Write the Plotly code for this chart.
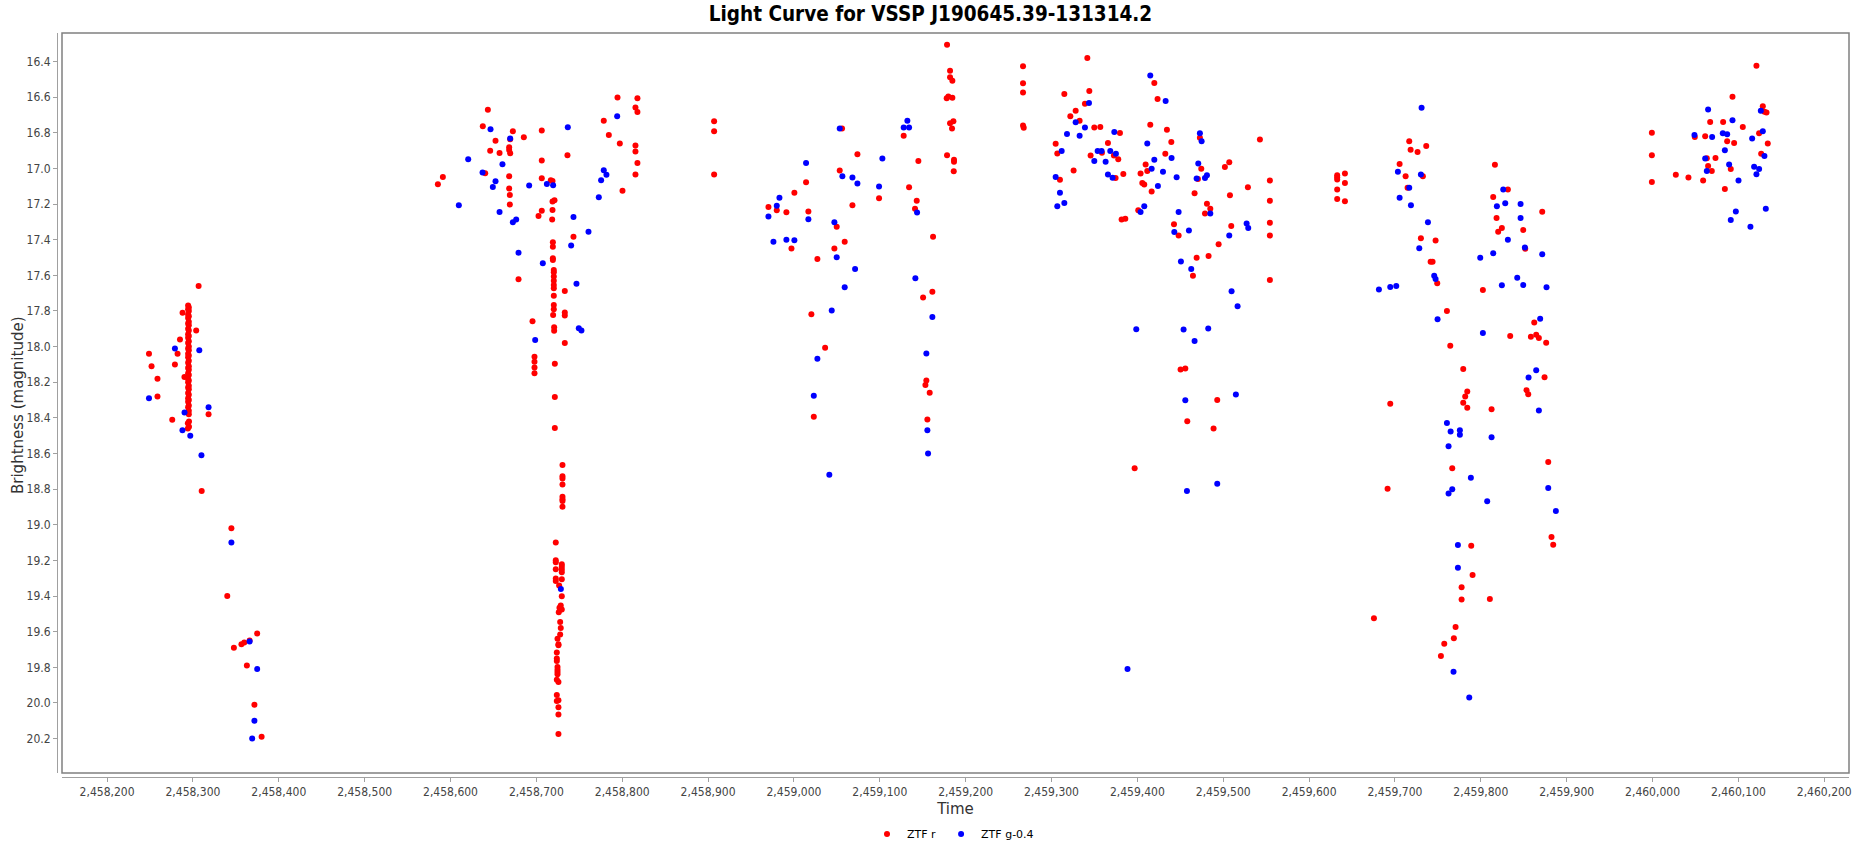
import plotly.graph_objects as go

# ---------------- data ----------------
red_t = [
    # season 1
    2458306.6, 2458287.9, 2458303.8, 2458284.9, 2458248.8, 2458282.1, 2458251.8, 2458279.0,
    2458258.7, 2458290.1, 2458258.7, 2458318.2, 2458275.9, 2458295.4, 2458294.1, 2458295.4,
    2458294.1, 2458310.2, 2458344.8, 2458340.0, 2458374.8, 2458366.0, 2458359.8, 2458356.5,
    2458347.7, 2458362.8, 2458371.6, 2458380.0,
    2458294.4, 2458295.2, 2458294.4, 2458295.2, 2458294.4, 2458295.2, 2458294.4, 2458295.2,
    2458294.4, 2458295.2, 2458294.4, 2458295.2, 2458294.4, 2458295.2, 2458294.4, 2458295.2,
    2458294.4, 2458295.2, 2458294.4, 2458295.2, 2458294.4, 2458295.2, 2458294.4, 2458295.2,
    2458294.4, 2458295.2, 2458294.4, 2458295.2, 2458294.4, 2458295.2, 2458294.4, 2458295.2,
    2458294.4, 2458295.2, 2458294.4, 2458295.2, 2458294.4, 2458295.2, 2458294.4, 2458295.2,
    2458294.4, 2458295.2, 2458294.4, 2458295.2, 2458294.4, 2458295.2,
    # season 2
    2458794.5, 2458817.7, 2458815.4, 2458817.7, 2458643.5, 2458907.0, 2458778.5, 2458637.6,
    2458907.0, 2458672.6, 2458706.3, 2458685.4, 2458669.5, 2458784.4, 2458652.4, 2458797.2,
    2458815.4, 2458815.4, 2458668.3, 2458668.3, 2458669.5, 2458646.2, 2458657.1, 2458706.3,
    2458736.2, 2458817.7, 2458815.4, 2458907.0, 2458591.1, 2458585.3, 2458640.4, 2458668.3,
    2458706.3, 2458716.8, 2458718.8, 2458668.3, 2458669.1, 2458669.1, 2458800.3, 2458718.8,
    2458721.1, 2458718.8, 2458706.3, 2458702.5, 2458718.4, 2458743.2, 2458719.2, 2458719.2,
    2458719.2, 2458719.2, 2458720.3, 2458720.3, 2458720.3, 2458720.3, 2458720.3, 2458720.3,
    2458720.3, 2458720.3, 2458720.3, 2458719.5, 2458733.1, 2458733.1, 2458733.1, 2458733.1,
    2458679.2, 2458695.5, 2458720.7, 2458720.7, 2458697.8, 2458697.8, 2458697.8, 2458697.8,
    2458721.5, 2458721.5,
    2458721.5, 2458730.4, 2458730.4, 2458730.4, 2458730.4, 2458730.4, 2458730.4, 2458730.4,
    2458730.4, 2458722.6, 2458722.6, 2458722.6, 2458729.6, 2458729.6, 2458729.6, 2458729.6,
    2458722.6, 2458722.6, 2458722.6, 2458729.6, 2458726.5, 2458729.6, 2458728.4, 2458726.9,
    2458729.6, 2458726.1, 2458727.7, 2458728.4, 2458727.7, 2458724.6, 2458725.7, 2458725.7,
    2458723.8, 2458723.8, 2458723.8, 2458724.6, 2458724.6, 2458724.6, 2458724.6, 2458723.8,
    2458725.7, 2458723.8, 2458723.8, 2458725.7, 2458725.7, 2458725.7, 2458725.7,
    # season 3-4
    2459178.3, 2459181.8, 2459181.8, 2459184.5, 2459177.9, 2459179.8, 2459184.5, 2459181.8,
    2459185.7, 2459184.1, 2459266.8, 2459266.8, 2459266.8, 2459266.8, 2459267.6, 2459056.0,
    2459127.8, 2459073.9, 2459144.9, 2459178.3, 2459186.4, 2459186.4, 2459186.1, 2459053.3,
    2459014.1, 2459000.5, 2459134.1, 2459099.1, 2459143.0, 2459141.0, 2458970.3, 2458980.0,
    2458991.2, 2459016.8, 2459068.1, 2459049.8, 2459059.1, 2459047.1, 2458997.1, 2459027.3,
    2459162.0, 2459161.2, 2459150.4, 2459020.3, 2459036.3, 2459023.1, 2459154.2, 2459153.1,
    2459158.1, 2459155.4,
    # season 5
    2459341.7, 2459314.9, 2459344.0, 2459338.9, 2459321.9, 2459328.1, 2459332.7, 2459349.8,
    2459356.8, 2459419.7, 2459423.5, 2459415.0, 2459434.4, 2459379.7, 2459304.8, 2459306.7,
    2459365.7, 2459439.5, 2459345.5, 2459358.7, 2459372.7, 2459377.7, 2459325.7, 2459309.8,
    2459374.6, 2459383.6, 2459432.5, 2459409.6, 2459411.5, 2459403.7, 2459405.7, 2459408.0,
    2459416.6, 2459472.8, 2459474.4, 2459470.5, 2459466.6, 2459501.9, 2459507.0, 2459542.7,
    2459554.3, 2459554.3, 2459554.3, 2459554.3, 2459554.3, 2459528.7, 2459507.8, 2459481.0,
    2459484.9, 2459478.7, 2459509.3, 2459494.6, 2459482.9, 2459469.0, 2459464.7, 2459381.6,
    2459385.9, 2459401.0, 2459442.6, 2459448.0, 2459450.3, 2459455.8, 2459493.0, 2459458.1,
    2459488.7, 2459396.8,
    2459632.7, 2459632.7, 2459632.7, 2459641.7, 2459641.7, 2459632.7, 2459632.7, 2459641.7,
    # season 6
    2459716.6, 2459736.4, 2459718.2, 2459726.3, 2459705.4, 2459712.4, 2459732.5, 2459714.7,
    2459816.4, 2459831.5, 2459814.4, 2459871.5, 2459818.3, 2459824.5, 2459820.2, 2459849.4,
    2459851.7, 2459730.2, 2459747.3, 2459741.5, 2459743.8, 2459749.2, 2459802.4, 2459760.5,
    2459862.2, 2459834.2, 2459858.3, 2459864.5, 2459867.6, 2459876.1, 2459764.4, 2459779.5,
    2459874.2, 2459784.2, 2459781.8, 2459779.5, 2459784.2, 2459853.2, 2459855.2, 2459812.5,
    2459694.5, 2459878.5, 2459766.7, 2459691.4, 2459882.3, 2459884.3, 2459788.8, 2459790.4,
    2459777.6, 2459777.6, 2459810.5, 2459675.5, 2459770.6, 2459768.6, 2459757.4, 2459753.5,
    # season 7
    2460121.0, 2460093.1, 2460128.4, 2460130.3, 2460132.7, 2460067.1, 2460082.2, 2460105.1,
    2459999.2, 2460049.2, 2460061.3, 2460124.1, 2460086.9, 2460095.0, 2460134.2, 2459999.2,
    2460063.2, 2460073.3, 2460126.5, 2460064.7, 2460069.0, 2460091.1, 2460027.1, 2460041.8,
    2460058.9, 2459999.2, 2460084.2,
]
red_mag = [
    # season 1
    17.66, 17.81, 17.91, 17.96, 18.04, 18.04, 18.11, 18.10,
    18.18, 18.17, 18.28, 18.38, 18.41, 18.42, 18.43, 18.45,
    18.46, 18.81, 19.02, 19.40, 19.61, 19.65, 19.66, 19.67,
    19.69, 19.79, 20.01, 20.19,
    17.77, 17.78, 17.79, 17.80, 17.82, 17.83, 17.84, 17.86,
    17.87, 17.88, 17.90, 17.91, 17.93, 17.94, 17.95, 17.97,
    17.98, 18.00, 18.01, 18.02, 18.04, 18.05, 18.06, 18.08,
    18.09, 18.11, 18.12, 18.13, 18.15, 18.16, 18.18, 18.19,
    18.20, 18.22, 18.23, 18.24, 18.26, 18.27, 18.29, 18.30,
    18.31, 18.33, 18.34, 18.36, 18.37, 18.38,
    # season 2
    16.602, 16.606, 16.658, 16.684, 16.671, 16.735, 16.733, 16.763,
    16.791, 16.791, 16.787, 16.825, 16.836, 16.813, 16.845, 16.860,
    16.871, 16.905, 16.881, 16.896, 16.915, 16.901, 16.913, 16.956,
    16.926, 16.969, 17.034, 17.034, 17.048, 17.089, 17.027, 17.044,
    17.055, 17.066, 17.070, 17.113, 17.149, 17.203, 17.126, 17.186,
    17.179, 17.233, 17.238, 17.267, 17.287, 17.383, 17.414, 17.439,
    17.504, 17.514, 17.570, 17.583, 17.607, 17.630, 17.654, 17.673,
    17.714, 17.766, 17.791, 17.823, 17.688, 17.808, 17.826, 17.980,
    17.622, 17.858, 17.892, 17.911, 18.057, 18.085, 18.117, 18.150,
    18.096, 18.283,
    18.457, 18.665, 18.727, 18.740, 18.774, 18.843, 18.856, 18.867,
    18.899, 19.099, 19.199, 19.210, 19.221, 19.236, 19.251, 19.266,
    19.249, 19.302, 19.315, 19.305, 19.341, 19.401, 19.453, 19.465,
    19.476, 19.491, 19.545, 19.579, 19.616, 19.640, 19.670, 19.676,
    19.717, 19.751, 19.764, 19.798, 19.813, 19.826, 19.839, 19.869,
    19.882, 19.955, 19.989, 19.985, 20.024, 20.064, 20.174,
    # season 3-4
    16.306, 16.452, 16.488, 16.508, 16.606, 16.596, 16.604, 16.746,
    16.735, 16.776, 16.426, 16.522, 16.574, 16.759, 16.772, 16.776,
    16.817, 16.920, 16.958, 16.926, 16.952, 16.962, 17.016, 17.012,
    17.078, 17.136, 17.106, 17.167, 17.181, 17.226, 17.216, 17.235,
    17.246, 17.242, 17.207, 17.327, 17.411, 17.450, 17.450, 17.508,
    17.383, 17.692, 17.725, 17.819, 18.006, 18.394, 18.190, 18.216,
    18.259, 18.409,
    # season 5
    16.380, 16.583, 16.565, 16.637, 16.707, 16.677, 16.733, 16.771,
    16.767, 16.521, 16.611, 16.755, 16.783, 16.801, 16.862, 16.916,
    16.858, 16.852, 16.928, 16.912, 16.928, 16.948, 17.012, 17.064,
    17.054, 17.032, 16.918, 16.978, 17.014, 17.028, 17.082, 17.090,
    17.130, 16.828, 17.002, 17.060, 17.140, 16.992, 16.966, 16.838,
    17.068, 17.182, 17.305, 17.377, 17.626, 17.106, 17.150, 17.198,
    17.227, 17.253, 17.323, 17.425, 17.491, 17.501, 17.603, 17.287,
    17.283, 17.235, 17.313, 17.377, 18.129, 18.123, 18.299, 18.419,
    18.460, 18.682,
    17.038, 17.050, 17.062, 17.028, 17.082, 17.118, 17.172, 17.184,
    # season 6
    16.848, 16.874, 16.895, 16.908, 16.975, 17.044, 17.044, 17.109,
    16.980, 17.118, 17.161, 17.243, 17.278, 17.334, 17.356, 17.345,
    17.451, 17.392, 17.405, 17.524, 17.524, 17.645, 17.682, 17.800,
    17.865, 17.941, 17.945, 17.934, 17.952, 17.978, 17.995, 18.125,
    18.172, 18.252, 18.280, 18.315, 18.343, 18.245, 18.267, 18.351,
    18.321, 18.647, 18.682, 18.798, 19.068, 19.112, 19.118, 19.282,
    19.351, 19.419, 19.416, 19.524, 19.574, 19.637, 19.667, 19.736,
    # season 7
    16.424, 16.598, 16.651, 16.682, 16.686, 16.740, 16.739, 16.767,
    16.800, 16.823, 16.819, 16.802, 16.847, 16.857, 16.860, 16.926,
    16.943, 16.941, 16.918, 16.986, 17.014, 17.003, 17.036, 17.051,
    17.068, 17.076, 17.115,
]

blue_t = [
    # season 1
    2458279.0, 2458307.4, 2458248.8, 2458318.2, 2458290.2, 2458287.8, 2458296.9, 2458309.9,
    2458344.8, 2458366.0, 2458374.8, 2458371.6, 2458369.0,
    # season 2
    2458646.6, 2458736.6, 2458669.5, 2458620.6, 2458660.5, 2458637.3, 2458652.4, 2458649.3,
    2458691.6, 2458712.2, 2458719.5, 2458794.1, 2458778.5, 2458781.6, 2458775.4, 2458772.7,
    2458609.7, 2458657.1, 2458672.6, 2458676.5, 2458743.2, 2458760.7, 2458740.5, 2458679.2,
    2458707.5, 2458746.7, 2458749.4, 2458752.5, 2458698.6, 2458728.5,
    # season 3-4
    2459053.3, 2459132.1, 2459127.8, 2459134.1, 2459014.1, 2459103.0, 2459056.4, 2459068.1,
    2459073.9, 2459099.1, 2458983.1, 2458980.0, 2458970.3, 2459016.8, 2459143.4, 2459047.1,
    2458976.1, 2458991.2, 2459000.5, 2459049.8, 2459071.2, 2459059.1, 2459141.4, 2459044.0,
    2459161.2, 2459027.3, 2459154.2, 2459023.1, 2459155.4, 2459156.2, 2459041.2,
    # season 5
    2459415.0, 2459432.9, 2459343.6, 2459328.1, 2459338.9, 2459318.0, 2459332.7, 2459373.1,
    2459311.8, 2459353.7, 2459358.3, 2459368.4, 2459375.0, 2459349.8, 2459363.0, 2459411.5,
    2459419.7, 2459416.6, 2459429.8, 2459439.8, 2459365.7, 2459371.1, 2459304.8, 2459423.9,
    2459445.7, 2459472.8, 2459474.8, 2459470.9, 2459469.0, 2459478.7, 2459481.0, 2459309.8,
    2459306.7, 2459314.9, 2459408.0, 2459403.7, 2459448.0, 2459484.9, 2459443.0, 2459460.0,
    2459507.0, 2459527.2, 2459529.1, 2459450.7, 2459462.7, 2459509.7, 2459516.7, 2459398.7,
    2459453.8, 2459482.5, 2459466.6, 2459455.8, 2459514.7, 2459457.7, 2459493.0, 2459388.5,
    # season 6
    2459703.4, 2459730.2, 2459716.6, 2459705.4, 2459718.6, 2459738.4, 2459728.3, 2459745.7,
    2459747.3, 2459681.3, 2459694.5, 2459701.5, 2459749.6, 2459826.1, 2459818.7, 2459828.4,
    2459846.3, 2459846.3, 2459831.5, 2459851.3, 2459871.5, 2459799.3, 2459814.4, 2459842.4,
    2459849.4, 2459824.5, 2459876.5, 2459869.1, 2459802.4, 2459864.5, 2459855.6, 2459867.6,
    2459760.5, 2459764.8, 2459775.6, 2459775.6, 2459762.4, 2459812.5, 2459788.4, 2459766.7,
    2459762.4, 2459807.4, 2459878.5, 2459887.4, 2459773.3, 2459773.3, 2459768.2, 2459786.5,
    2459731.0,
    # season 7
    2460064.7, 2460126.1, 2460093.1, 2460128.4, 2460081.8, 2460086.9, 2460048.8, 2460069.4,
    2460116.0, 2460084.2, 2460061.3, 2460130.3, 2460089.2, 2460063.2, 2460118.3, 2460124.1,
    2460121.0, 2460100.1, 2460131.9, 2460097.0, 2460091.1, 2460114.0,
]
blue_mag = [
    # season 1
    18.01, 18.02, 18.29, 18.34, 18.37, 18.47, 18.50, 18.61,
    19.10, 19.655, 19.81, 20.10, 20.20,
    # season 2
    16.780, 16.769, 16.832, 16.948, 16.976, 17.023, 17.072, 17.104,
    17.096, 17.087, 17.094, 16.707, 17.010, 17.036, 17.066, 17.162,
    17.207, 17.244, 17.302, 17.287, 17.272, 17.355, 17.433, 17.473,
    17.532, 17.647, 17.897, 17.909, 17.963, 19.36,
    # season 3-4
    16.776, 16.733, 16.771, 16.771, 16.969, 16.945, 17.044, 17.051,
    17.085, 17.102, 17.164, 17.209, 17.270, 17.285, 17.248, 17.302,
    17.411, 17.400, 17.403, 17.499, 17.564, 17.667, 17.617, 17.797,
    17.834, 18.068, 18.038, 18.276, 18.469, 18.600, 18.719,
    # season 5
    16.479, 16.621, 16.633, 16.741, 16.771, 16.807, 16.816, 16.795,
    16.902, 16.902, 16.902, 16.902, 16.918, 16.958, 16.962, 16.860,
    16.952, 17.002, 17.018, 16.942, 17.034, 17.052, 17.048, 17.098,
    17.050, 16.803, 16.848, 16.972, 17.056, 17.054, 17.038, 17.136,
    17.213, 17.194, 17.213, 17.245, 17.245, 17.253, 17.357, 17.349,
    17.377, 17.309, 17.335, 17.523, 17.565, 17.690, 17.774, 17.902,
    17.904, 17.898, 17.968, 18.301, 18.269, 18.810, 18.770, 19.81,
    # season 6
    17.019, 17.034, 17.109, 17.165, 17.206, 17.302, 17.448, 17.602,
    17.621, 17.680, 17.665, 17.660, 17.846, 17.118, 17.213, 17.196,
    17.200, 17.278, 17.401, 17.444, 17.481, 17.502, 17.476, 17.613,
    17.654, 17.656, 17.667, 17.844, 17.924, 18.133, 18.174, 18.358,
    18.429, 18.477, 18.470, 18.494, 18.559, 18.509, 18.736, 18.801,
    18.825, 18.868, 18.794, 18.922, 19.114, 19.241, 19.825, 19.969,
    16.66,
    # season 7
    16.669, 16.677, 16.729, 16.791, 16.802, 16.808, 16.812, 16.823,
    16.832, 16.898, 16.945, 16.930, 16.978, 17.014, 16.991, 17.003,
    17.033, 17.068, 17.227, 17.242, 17.289, 17.327,
]

series_names = ["ZTF r", "ZTF g-0.4"]
series_colors = ["#FF0000", "#0000FF"]
title_text = "Light Curve for VSSP J190645.39-131314.2"
x_title = "Time"
y_title = "Brightness (magnitude)"
x_ticks = list(range(2458200, 2460201, 100))
y_ticks = [16.4, 16.6, 16.8, 17.0, 17.2, 17.4, 17.6, 17.8, 18.0, 18.2, 18.4,
           18.6, 18.8, 19.0, 19.2, 19.4, 19.6, 19.8, 20.0, 20.2]

# ---------------- figure ----------------
W, H = 1861, 846
ML, MR, MT, MB = 57, 12, 33, 69
PLOT_W = W - ML - MR

fig = go.Figure()
for t, m, name, col in [(red_t, red_mag, series_names[0], series_colors[0]),
                        (blue_t, blue_mag, series_names[1], series_colors[1])]:
    fig.add_trace(go.Scatter(
        x=t, y=m, mode="markers", name=name,
        marker=dict(color=col, size=6, line=dict(width=0)),
    ))

tick_font = dict(family="DejaVu Sans Condensed", size=12, color="#444444")
fig.update_layout(
    width=W, height=H,
    margin=dict(l=ML, r=MR, t=MT, b=MB, autoexpand=False),
    paper_bgcolor="white", plot_bgcolor="white",
    title=dict(text=title_text, x=0.5, xref="container", xanchor="center",
               y=1 - 14 / H, yref="container", yanchor="middle",
               font=dict(family="DejaVu Sans Condensed", size=20.5, color="#000000",
                         weight="bold")),
    xaxis=dict(
        range=[2458147.5, 2460228.8], domain=[5 / PLOT_W, 1],
        anchor="free", position=0,
        tickmode="array", tickvals=x_ticks, tickformat=",d",
        showgrid=False, zeroline=False,
        showline=True, linecolor="#A0A0A0", linewidth=1,
        ticks="outside", ticklen=4, tickcolor="#A0A0A0",
        tickfont=tick_font,
        title=dict(text=x_title, standoff=5,
                   font=dict(family="DejaVu Sans", size=15, color="#333333")),
    ),
    yaxis=dict(
        range=[20.393, 16.24], domain=[4 / 744, 1],
        anchor="free", position=0,
        tickmode="array", tickvals=y_ticks, tickformat=".1f",
        showgrid=False, zeroline=False,
        showline=True, linecolor="#A0A0A0", linewidth=1,
        ticks="outside", ticklen=4, tickcolor="#A0A0A0",
        tickfont=tick_font,
    ),
    legend=dict(orientation="h", x=0.5, xanchor="center",
                y=(777 - 834) / 744, yanchor="middle",
                font=dict(family="DejaVu Sans", size=11, color="#000000"),
                itemwidth=30, bgcolor="rgba(0,0,0,0)"),
    showlegend=True,
)

# y-axis title placed as rotated text
fig.add_annotation(text=y_title, textangle=-90, showarrow=False,
                   xref="paper", yref="paper", x=(18 - ML) / PLOT_W, y=0.5,
                   xanchor="center", yanchor="middle",
                   font=dict(family="DejaVu Sans", size=15, color="#333333"))

# plot-area outline
fig.add_shape(type="rect", xref="x domain", yref="y domain",
              x0=0, x1=1, y0=0, y1=1,
              line=dict(color="#808080", width=1.5), layer="above")

fig.write_html(
    "out.html",
    config={"displayModeBar": False},
    post_script="document.body.style.margin='0';document.body.style.overflow='hidden';",
)
